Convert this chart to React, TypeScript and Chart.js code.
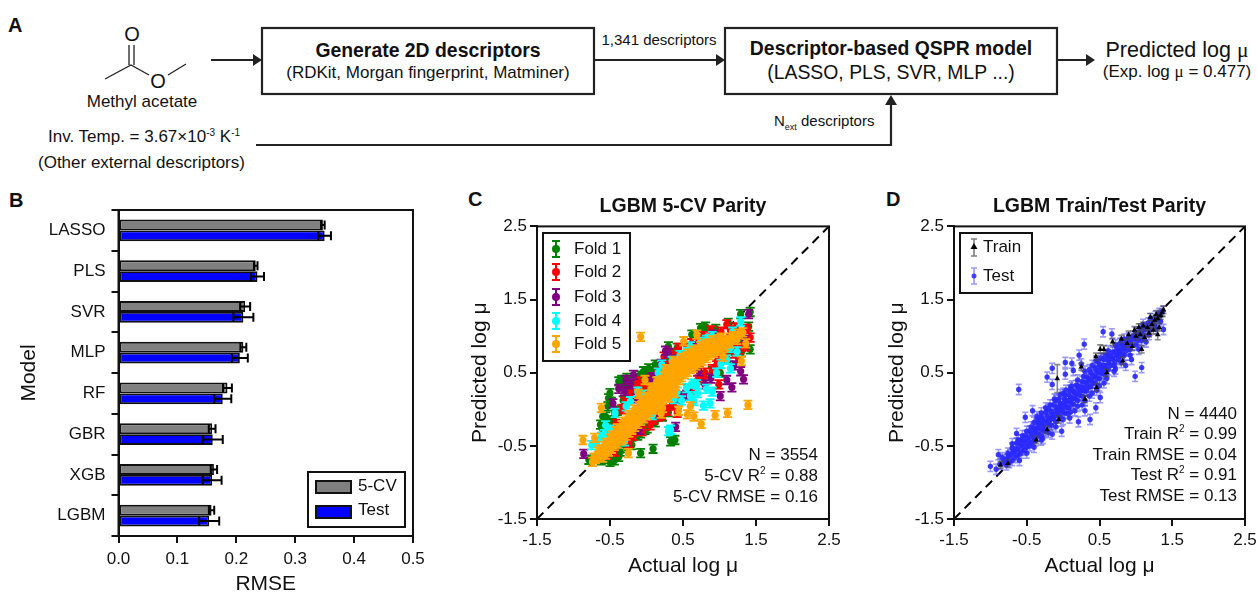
import React, { useEffect, useRef } from "react";
import { Chart, registerables } from "chart.js";
Chart.register(...registerables);

const FONT = '"Liberation Sans", Arial, sans-serif';
Chart.defaults.font.family = FONT;
Chart.defaults.color = "#111";

// Panel B
const models = ["LASSO", "PLS", "SVR", "MLP", "RF", "GBR", "XGB", "LGBM"];
const cvRmse = [0.347, 0.233, 0.215, 0.212, 0.185, 0.159, 0.162, 0.158];
const cvErr = [0.003, 0.003, 0.0085, 0.005, 0.0075, 0.0057, 0.0054, 0.0045];
const testRmse = [0.35, 0.236, 0.212, 0.206, 0.177, 0.16, 0.159, 0.154];
const testErr = [0.0107, 0.011, 0.017, 0.0135, 0.0145, 0.017, 0.016, 0.017];
const rmseTicks = [0, 0.1, 0.2, 0.3, 0.4, 0.5];

// Panel C
const fold1 = [[-.34,.4],[-.38,.38],[-.27,.43],[-.3,.36],[-.24,.39],[-.36,.34],[-.5,.22],[-.52,.15],[-.53,.04],[-.48,.1],[-.56,-.1],[-.63,-.21],[-.61,-.26],[-.5,-.17],[-.44,-.04],[-.6,-.1],[-.04,.52],[.12,.61],[.03,.56],[.08,.5],[-.1,.46],[.3,.86],[.42,.84],[.36,.76],[.74,1.11],[.81,1.13],[.62,1.02],[.95,1.1],[1.29,1.3],[1.42,1.33],[1.01,.5],[1.42,.82],[1.19,.83],[1.4,1.13],[1.3,.9],[-.79,-.69],[-.5,-.72],[-.44,-.7],[-.38,-.65],[-.36,-.58],[-.27,-.53],[-.2,-.49],[-.08,-.6],[.09,-.54],[.33,-.44],[.39,-.42],[.01,-.26],[-.08,-.33],[-.3,-.45],[.22,-.1],[-.16,.2],[-.02,.28],[.52,.7],[1.12,1.18],[-.55,-.3],[-.45,-.15],[-.4,-.02],[-.32,.12],[-.25,.25],[-.18,.32],[-.08,.38],[0,.44],[.12,.52],[.2,.56],[.28,.66],[.4,.72],[-.62,-.7],[-.55,-.68],[-.42,-.6],[-.22,-.42],[-.12,-.36],[-.02,-.28],[.12,-.18],[.3,-.04],[.6,.26],[.9,.52],[1.1,.7],[1.3,.78]];
const fold2 = [[.44,.84],[.78,1],[1.1,1.16],[1.26,.7],[.97,.66],[.78,.43],[.99,.34],[.42,-.05],[.21,-.08],[.1,-.14],[-.22,.2],[.33,.77],[1.42,.98],[1.06,.81],[-.54,-.62],[.88,1.08],[.62,.9],[1.2,.88],[.9,.55],[.7,.4],[.56,.28],[.35,.05],[.28,-.02],[.05,-.22],[-.3,.1],[-.12,.38],[.15,.5],[.24,.72],[1.3,.85],[1.38,1.1],[1.15,1.08],[-.32,-.42],[-.18,-.36],[-.42,-.2],[-.34,0],[-.2,.28],[-.05,.3],[.04,.34],[.15,.42],[.3,.6],[.44,.7],[.55,.84],[.72,.94],[.9,.96],[1.02,1.06],[1.22,1.12],[-.44,-.58],[-.24,-.46],[-.06,-.3],[.16,-.1],[.26,0],[.42,.1],[.5,.18],[.64,.3],[.8,.5],[.96,.6],[1.08,.72],[1.2,.76],[1.36,.86]];
const fold3 = [[-.86,-.61],[-.38,.28],[-.18,.47],[.3,.77],[-.22,.34],[.12,.34],[1.4,1.3],[1.29,.52],[1.33,.41],[1.17,.3],[1.1,.4],[1.01,.18],[.4,-.24],[-.13,.15],[1.35,.95],[.8,.34],[-.28,.4],[.06,.42],[.26,.8],[.2,.62],[-.3,.25],[.92,1.02],[.72,.52],[.55,.2],[-.46,.08],[.08,.44],[.38,.68],[.66,.86],[1.28,1.02],[-.1,-.28],[.18,-.06],[.46,.16],[.88,.42],[1.2,.6]];
const fold4 = [[1.29,1.2],[.9,1],[.6,.86],[.21,.61],[-.22,.11],[-.43,-.05],[-.56,-.22],[-.75,-.49],[.87,.08],[.78,.05],[.9,.24],[.65,.11],[.33,-.28],[1.15,.56],[1.24,.79],[.55,.29],[1.15,.84],[.42,.24],[.69,.34],[-.5,-.28],[-.62,-.38],[-.68,-.46],[-.12,.24],[.16,.5],[.35,.66],[.46,.74],[.74,.92],[.82,.95],[.82,.28],[.6,.18],[.48,.12],[.3,-.3],[.7,.22],[1.02,.62],[-.58,-.34],[-.28,.04],[-.04,.2],[.26,.46],[.56,.78],[.86,.96],[1.18,1.06],[-.3,-.44],[.08,-.08],[.38,.14],[.62,.35],[.96,.5],[1.1,.68]];
const fold5 = [[-.08,.99],[1.39,.06],[1.11,-.05],[.94,-.08],[.75,-.2],[.65,-.1],[.56,-.07],[.44,-.02],[.6,.04],[-.87,-.42],[-.71,-.39],[-.62,.02],[-.25,-.6],[.51,.93],[.69,1.02],[.99,.96],[.37,.66],[-.02,.4],[-.11,.21],[1.05,.72],[1.3,.66],[1.36,.9],[.2,-.06],[.08,.3],[-.74,-.72],[-.7,-.68],[-.66,-.64],[-.62,-.6],[-.58,-.57],[-.54,-.52],[-.5,-.47],[-.46,-.43],[-.42,-.38],[-.38,-.34],[-.34,-.31],[-.3,-.27],[-.26,-.23],[-.22,-.18],[-.18,-.14],[-.14,-.1],[-.1,-.06],[-.06,-.02],[-.02,.02],[.02,.05],[.06,.09],[.1,.13],[.14,.18],[.18,.22],[.22,.27],[.26,.32],[.3,.36],[.34,.41],[.38,.46],[.42,.5],[.46,.54],[.5,.58],[.54,.61],[.58,.64],[.62,.66],[.66,.69],[.7,.72],[.74,.75],[.78,.78],[.82,.8],[.86,.83],[.9,.85],[.95,.87],[1,.89],[1.05,.92],[1.1,.95],[1.15,.98],[1.2,1],[1.26,1.03],[1.32,1.05],[-.66,-.58],[-.58,-.5],[-.5,-.4],[-.42,-.3],[-.34,-.22],[-.26,-.13],[-.18,-.05],[-.1,.04],[-.02,.12],[.06,.2],[.14,.3],[.22,.4],[.3,.5],[.38,.58],[.46,.66],[.54,.72],[.62,.76],[.7,.82],[.8,.88],[.9,.94],[1.02,.98],[-.6,-.66],[-.52,-.58],[-.44,-.5],[-.36,-.43],[-.28,-.36],[-.2,-.28],[-.12,-.2],[-.04,-.12],[.04,-.04],[.12,.04],[.2,.12],[.28,.22],[.36,.32],[.44,.4],[.52,.48],[.6,.55],[.68,.6],[.76,.66],[.86,.74],[.96,.8],[1.08,.86],[.1,.26],[.2,.36],[.32,.24],[.22,.02],[.4,.32],[-.72,-.66],[-.64,-.55],[-.56,-.46],[-.48,-.36],[-.4,-.26],[-.32,-.17],[-.24,-.08],[-.16,0],[-.08,.09],[0,.17],[.08,.25],[.16,.35],[.24,.45],[.32,.55],[.4,.63],[.48,.7],[.56,.76],[.64,.8],[.74,.86],[.84,.9],[-.56,-.62],[-.48,-.54],[-.4,-.47],[-.32,-.4],[-.24,-.32],[-.16,-.24],[-.08,-.16],[0,-.08],[.08,0],[.16,.08],[.24,.17],[.32,.27],[.4,.36],[.48,.44],[.56,.51],[.64,.57],[.72,.63],[.82,.7],[.92,.77],[1.02,.83],[1.14,.9],[1.24,.95],[.06,.28],[.14,.38],[.3,.16],[.38,.22],[.12,0],[.26,.55]];
const foldLabels = ["Fold 1", "Fold 2", "Fold 3", "Fold 4", "Fold 5"];
const foldColors = ["#008000", "#ff0000", "#800080", "#00ffff", "#ffa500"];
const foldErr = 0.058;
const cvNotes = ["N = 3554", "5-CV R|2| = 0.88", "5-CV RMSE = 0.16"];

// Panel D
const trainPts = [[-.08,.42,.19],[1.3,1.02,.07],[.51,.82,.06],[-.86,-.76],[-.76,-.74],[-.37,-.42],[-.22,-.28],[-.06,-.14],[.3,.14],[.46,.3],[.6,.5],[.82,.66],[.95,.86],[1.08,.82],[1.12,.98],[.8,.96],[.68,.92],[.56,.82],[.45,.72],[.9,1.02],[.98,1.08],[1.04,1.12],[1.1,1.14],[1.16,1.12],[1.22,1.16],[1.26,1.22],[1.3,1.24],[1.34,1.28],[1.36,1.32],[1.38,1.36],[1.32,1.12],[1.24,1.08],[1.18,1.04],[1.06,1.02],[1.2,1.26],[1.28,1.3],[1,1],[.88,.9],[.25,.58]];
const testPts = [[.55,1.06],[.29,.89],[.22,.74],[.03,.64],[-.15,.56],[-.22,.44],[-.15,.34],[-.61,.27],[.03,.48],[.14,.53],[.25,.62],[1.08,.57],[.99,.45],[.94,.68],[.37,-.14],[.51,.16],[.21,-.17],[-.52,-.11],[-.64,-.33],[-1,-.78],[-.89,-.62],[1.38,1.09],[.67,1.03],[.12,.63],[.45,.66],[.78,.9],[.86,.6],[.72,.55],[-.42,-.02],[-.36,-.1],[.45,.02],[.3,-.02],[.09,-.12],[-.02,-.3],[-.15,-.34],[-.28,-.4],[-.92,-.82],[-.87,-.75],[-.82,-.72],[-.77,-.68],[-.72,-.62],[-.67,-.58],[-.62,-.55],[-.57,-.5],[-.52,-.46],[-.47,-.42],[-.42,-.37],[-.37,-.32],[-.32,-.27],[-.27,-.23],[-.22,-.18],[-.17,-.13],[-.12,-.08],[-.07,-.04],[-.02,.01],[.03,.06],[.08,.11],[.13,.15],[.18,.21],[.23,.25],[.28,.3],[.33,.36],[.38,.4],[.43,.45],[.48,.5],[.53,.54],[.58,.6],[.63,.64],[.68,.69],[.73,.74],[.78,.79],[.83,.83],[.88,.87],[.93,.92],[.98,.96],[1.03,1.01],[1.08,1.05],[1.13,1.09],[1.18,1.13],[1.23,1.17],[1.28,1.22],[1.33,1.28],[1.37,1.34],[-.84,-.66],[-.76,-.6],[-.7,-.53],[-.64,-.46],[-.58,-.42],[-.52,-.36],[-.46,-.3],[-.4,-.26],[-.34,-.19],[-.28,-.14],[-.22,-.09],[-.16,-.03],[-.1,.03],[-.04,.08],[.02,.14],[.08,.2],[.14,.25],[.2,.32],[.26,.38],[.32,.44],[.38,.5],[.44,.56],[.5,.61],[.56,.68],[.62,.74],[.68,.78],[.74,.84],[.8,.9],[.9,.98],[1,1.05],[1.1,1.16],[1.2,1.24],[-.78,-.76],[-.7,-.7],[-.62,-.63],[-.54,-.56],[-.46,-.5],[-.38,-.43],[-.3,-.36],[-.24,-.3],[-.16,-.22],[-.1,-.17],[-.04,-.1],[.02,-.05],[.08,.02],[.14,.07],[.2,.12],[.26,.18],[.32,.25],[.38,.31],[.44,.36],[.5,.42],[.56,.48],[.62,.54],[.7,.6],[.76,.68],[.84,.74],[.92,.82],[1,.88],[1.08,.94],[1.18,1.02],[1.28,1.1],[-.3,-.1],[-.2,0],[-.1,.12],[0,.22],[.1,.3],[.06,-.06],[.16,-.02],[.26,.06],[.36,.18],[.46,.26],[.56,.36],[-.8,-.69],[-.75,-.64],[-.69,-.59],[-.64,-.54],[-.59,-.48],[-.54,-.43],[-.49,-.39],[-.44,-.33],[-.39,-.29],[-.35,-.25],[-.3,-.2],[-.25,-.16],[-.2,-.12],[-.15,-.07],[-.09,-.02],[-.05,.03],[0,.08],[.05,.12],[.1,.17],[.16,.22],[.21,.28],[.25,.31],[.3,.37],[.35,.42],[.41,.47],[.46,.53],[.51,.57],[.55,.6],[.61,.68],[.66,.72],[.71,.78],[.76,.8],[.81,.86],[.86,.9],[.91,.95],[.96,1],[1.02,1.04],[1.06,1.1],[1.12,1.12],[1.17,1.18],[1.22,1.2],[1.27,1.27],[1.32,1.31],[-.74,-.73],[-.66,-.66],[-.58,-.6],[-.5,-.52],[-.43,-.46],[-.35,-.37],[-.27,-.29],[-.19,-.21],[-.13,-.13],[-.07,-.09],[-.01,-.03],[.05,.02],[.11,.08],[.17,.14],[.23,.19],[.29,.25],[.35,.3],[.41,.36],[.47,.42],[.53,.49],[.59,.54],[.65,.6],[.71,.65],[.77,.72],[.81,.76],[.87,.8],[.95,.87],[1.03,.94],[1.11,1.01],[1.19,1.08],[1.26,1.14],[1.34,1.2],[-.4,-.18],[-.32,-.12],[-.24,-.04],[-.14,.06],[-.06,.14],[.02,.2],[.1,.26],[.18,.33],[.28,.45],[.36,.54],[.48,.66],[.58,.74],[-.7,-.47],[-.62,-.42],[-.56,-.36],[-.5,-.3],[-.44,-.24],[-.36,-.14],[-.3,-.05],[-.24,.02],[-.18,.06],[-.12,.14],[-.04,.2],[.04,.26],[.12,.32],[.2,.4],[.3,.52],[.4,.6],[.52,.7],[.62,.8],[.72,.88],[.84,.96],[-.6,-.7],[-.5,-.6],[-.4,-.52],[-.3,-.42],[-.2,-.32],[-.1,-.24],[0,-.14],[.1,-.04],[.2,.04],[.3,.12],[.4,.22],[.5,.32],[.6,.42],[.7,.52],[.8,.64],[.92,.74],[1.04,.82],[1.14,.92]];
const trainErr = 0.05;
const testError = 0.07;
const splitNotes = ["N = 4440", "Train R|2| = 0.99", "Train RMSE = 0.04", "Test R|2| = 0.91", "Test RMSE = 0.13"];
const parityEnds = [-1.5, 2.5];
const parityTicks = [-1.5, -0.5, 0.5, 1.5, 2.5];

const boxPlugin = {
  id: "box",
  afterDraw(chart: any) {
    const a = chart.chartArea, c = chart.ctx;
    c.save();
    c.strokeStyle = "#111";
    c.lineWidth = 2;
    c.strokeRect(a.left, a.top, a.right - a.left, a.bottom - a.top);
    c.restore();
  },
};

function drawErr(c: any, px: number, y0: number, y1: number, capW: number, color: string, lw: number) {
  c.strokeStyle = color;
  c.lineWidth = lw;
  c.beginPath();
  c.moveTo(px, y0); c.lineTo(px, y1);
  c.moveTo(px - capW / 2, y0); c.lineTo(px + capW / 2, y0);
  c.moveTo(px - capW / 2, y1); c.lineTo(px + capW / 2, y1);
  c.stroke();
}

const scatterErrPlugin = {
  id: "scatterErr",
  beforeDatasetDraw(chart: any, args: any) {
    const ds = chart.data.datasets[args.index];
    if (!ds.errColor) return;
    const c = chart.ctx;
    c.save();
    const sy = chart.scales.y, sx = chart.scales.x;
    for (const p of ds.data) {
      const e = p.e ?? ds.errValue;
      drawErr(c, sx.getPixelForValue(p.x), sy.getPixelForValue(p.y + e), sy.getPixelForValue(p.y - e), ds.capW, ds.errColor, ds.errWidth);
    }
    c.restore();
  },
};

const barErrPlugin = {
  id: "barErr",
  afterDatasetsDraw(chart: any) {
    const c = chart.ctx, sx = chart.scales.x;
    c.save();
    chart.data.datasets.forEach((ds: any, i: number) => {
      chart.getDatasetMeta(i).data.forEach((el: any, j: number) => {
        const x0 = sx.getPixelForValue(ds.data[j] - ds.errs[j]);
        const x1 = sx.getPixelForValue(ds.data[j] + ds.errs[j]);
        c.strokeStyle = "#000";
        c.lineWidth = 2;
        c.beginPath();
        c.moveTo(x0, el.y); c.lineTo(x1, el.y);
        c.moveTo(x0, el.y - 4.5); c.lineTo(x0, el.y + 4.5);
        c.moveTo(x1, el.y - 4.5); c.lineTo(x1, el.y + 4.5);
        c.stroke();
      });
    });
    c.restore();
  },
};

function notesPlugin(lines: string[], right: number, centers: number[]) {
  return {
    id: "notes",
    afterDraw(chart: any) {
      const c = chart.ctx;
      c.save();
      c.fillStyle = "#111";
      c.textBaseline = "middle";
      c.textAlign = "left";
      lines.forEach((line, i) => {
        const parts = line.split("|");
        const big = `17px ${FONT}`, small = `10px ${FONT}`;
        const widths = parts.map((t, k) => { c.font = k === 1 ? small : big; return c.measureText(t).width; });
        let x = right - widths.reduce((a, b) => a + b, 0);
        parts.forEach((t, k) => {
          c.font = k === 1 ? small : big;
          c.fillText(t, x, centers[i] + (k === 1 ? -5 : 0));
          x += widths[k];
        });
      });
      c.restore();
    },
  };
}

function legendPlugin(draw: (c: any, chart: any) => void) {
  return { id: "legendBox", afterDraw(chart: any) { const c = chart.ctx; c.save(); draw(c, chart); c.restore(); } };
}

function frame(c: any, x: number, y: number, w: number, h: number) {
  c.fillStyle = "#fff";
  c.fillRect(x, y, w, h);
  c.strokeStyle = "#111";
  c.lineWidth = 2;
  c.strokeRect(x, y, w, h);
  c.font = `17px ${FONT}`;
  c.textBaseline = "middle";
  c.textAlign = "left";
}

const OFFSET_C = { left: 465, top: 190 };
const OFFSET_D = { left: 883, top: 190 };
const OFFSET_B = { left: 0, top: 190 };

const noPad = (s: any) => { s.paddingLeft = 0; s.paddingRight = 0; s.paddingTop = 0; s.paddingBottom = 0; };

function parityConfig(datasets: any[], title: string, plugins: any[], yWidth: number, right: number, yTitlePad: number) {
  const diag = {
    type: "line", label: "Parity",
    data: parityEnds.map((v) => ({ x: v, y: v })),
    borderColor: "#000", borderWidth: 2, borderDash: [9, 6], pointRadius: 0, order: 100,
  };
  const axis = (text: string) => ({
    type: "linear", min: parityEnds[0], max: parityEnds[1],
    afterBuildTicks(s: any) { s.ticks = parityTicks.map((value) => ({ value })); },
    ticks: { font: { size: 17 }, color: "#111", callback: (v: any) => Number(v).toFixed(1), maxRotation: 0, autoSkip: false },
    grid: { drawOnChartArea: false, color: "#111", tickColor: "#111", lineWidth: 2, tickLength: 7 },
    border: { color: "#111", width: 2 },
    title: { display: true, text, font: { size: 21 }, color: "#111" },
  });
  const x: any = axis("Actual log μ");
  x.ticks.padding = 4;
  x.title.padding = { top: 0, bottom: 31 };
  x.afterFit = (s: any) => { s.height = 91; noPad(s); };
  const y: any = axis("Predicted log μ");
  y.ticks.padding = 3;
  y.title.padding = { top: yTitlePad, bottom: 0 };
  y.afterFit = (s: any) => { s.width = yWidth; noPad(s); };
  return {
    type: "scatter",
    data: { datasets: [...datasets, diag] },
    plugins: [scatterErrPlugin, boxPlugin, ...plugins],
    options: {
      animation: false, responsive: false,
      layout: { padding: { right, left: 0, top: 0, bottom: 0 } },
      plugins: {
        legend: { display: false }, tooltip: { enabled: false },
        title: { display: true, fullSize: false, text: title, font: { size: 19.5, weight: "bold" }, color: "#111", padding: { top: 5, bottom: 8 } },
      },
      scales: { x, y },
    },
  };
}

const toPoints = (pts: number[][]) => pts.map(([x, y, e]) => (e === undefined ? { x, y } : { x, y, e }));

function Diagram() {
  const t = { fontFamily: FONT, fill: "#111" } as any;
  const line = { stroke: "#222", strokeWidth: 2.2, fill: "none" } as any;
  const arrow = (x: number, y: number) => <polygon points={`${x},${y} ${x - 9},${y - 6} ${x - 9},${y + 6}`} fill="#222" />;
  const mu = (s = "1em") => <tspan fontFamily='"Liberation Serif", serif' fontSize={s}>μ</tspan>;
  return (
    <svg width={1257} height={593} style={{ position: "absolute", left: 0, top: 0 }}>
      <g {...t}>
        <text x={8} y={32} fontSize={20} fontWeight="bold">A</text>
        <text x={9} y={207} fontSize={20} fontWeight="bold">B</text>
        <text x={468} y={206} fontSize={20} fontWeight="bold">C</text>
        <text x={886} y={206} fontSize={20} fontWeight="bold">D</text>

        <text x={132} y={41} fontSize={20} textAnchor="middle">O</text>
        <text x={158} y={88} fontSize={20} textAnchor="middle">O</text>
        <path d="M129 45V65M134 45V65M105 79L131 65L149 75M168 75L186 64" stroke="#222" strokeWidth={1.3} fill="none" />
        <text x={142} y={107} fontSize={17} textAnchor="middle">Methyl acetate</text>
        <text x={48} y={142} fontSize={17}>Inv. Temp. = 3.67×10<tspan fontSize={10} dy={-6}>-3</tspan><tspan dy={6}> K</tspan><tspan fontSize={10} dy={-6}>-1</tspan></text>
        <text x={38} y={168} fontSize={17}>(Other external descriptors)</text>

        <rect x={262} y={28} width={332} height={66} fill="#fff" {...line} />
        <text x={428} y={57} fontSize={19.4} fontWeight="bold" textAnchor="middle">Generate 2D descriptors</text>
        <text x={428} y={78} fontSize={17} textAnchor="middle">(RDKit, Morgan fingerprint, Matminer)</text>
        <rect x={725} y={28} width={332} height={66} fill="#fff" {...line} />
        <text x={891} y={55} fontSize={19.4} fontWeight="bold" textAnchor="middle">Descriptor-based QSPR model</text>
        <text x={891} y={79} fontSize={19.4} textAnchor="middle">(LASSO, PLS, SVR, MLP ...)</text>

        <path d="M211 60H254M594 60H716M1057 60H1086" {...line} />
        {arrow(262, 60)}{arrow(725, 60)}{arrow(1095, 60)}
        <path d="M256 145H891V104" {...line} />
        <polygon points="891,95 885,105 897,105" fill="#222" />

        <text x={659} y={45} fontSize={15} textAnchor="middle">1,341 descriptors</text>
        <text x={774} y={126} fontSize={15}>N<tspan fontSize={9} dy={4}>ext</tspan><tspan dy={-4}> descriptors</tspan></text>
        <text x={1177} y={57} fontSize={21.5} textAnchor="middle">Predicted log {mu()}</text>
        <text x={1177} y={77} fontSize={17} textAnchor="middle">(Exp. log {mu()} = 0.477)</text>
      </g>
    </svg>
  );
}

function useChart(make: () => any) {
  const ref = useRef<HTMLCanvasElement>(null);
  useEffect(() => {
    const ch = new Chart(ref.current!, make());
    return () => ch.destroy();
  }, []);
  return ref;
}

export default function App() {
  const refB = useChart(() => ({
    type: "bar",
    data: {
      labels: models,
      datasets: [
        { label: "5-CV", data: cvRmse, errs: cvErr, backgroundColor: "#808080", borderColor: "#111", borderWidth: 1.8, borderSkipped: false, barPercentage: 1, categoryPercentage: 0.53 },
        { label: "Test", data: testRmse, errs: testErr, backgroundColor: "#0000ff", borderColor: "#111", borderWidth: 1.8, borderSkipped: false, barPercentage: 1, categoryPercentage: 0.53 },
      ],
    },
    plugins: [barErrPlugin, boxPlugin, legendPlugin((c, chart) => {
      const x0 = 308 - OFFSET_B.left, y0 = 472 - OFFSET_B.top;
      frame(c, x0, y0, 97, 55);
      chart.data.datasets.forEach((ds: any, i: number) => {
        const y = y0 + 9 + i * 25;
        c.fillStyle = ds.backgroundColor;
        c.fillRect(x0 + 8, y, 35, 12);
        c.strokeRect(x0 + 8, y, 35, 12);
        c.fillStyle = "#111";
        c.fillText(ds.label, x0 + 50, y + 6 - (i ? 2 : 1));
      });
    })],
    options: {
      indexAxis: "y", animation: false, responsive: false,
      layout: { padding: { top: 20, right: 17, left: 0, bottom: 0 } },
      plugins: { legend: { display: false }, tooltip: { enabled: false } },
      scales: {
        x: {
          type: "linear", min: rmseTicks[0], max: rmseTicks[rmseTicks.length - 1],
          ticks: { stepSize: 0.1, font: { size: 17 }, color: "#111", padding: 6, maxRotation: 0, callback: (v: any) => Number(v).toFixed(1) },
          grid: { drawOnChartArea: false, color: "#111", tickColor: "#111", lineWidth: 2, tickLength: 7 },
          border: { color: "#111", width: 2 },
          title: { display: true, text: "RMSE", font: { size: 21 }, color: "#111", padding: { top: 0, bottom: 13 } },
          afterFit(s: any) { s.height = 74; noPad(s); },
        },
        y: {
          ticks: { font: { size: 17 }, color: "#111", padding: 6, autoSkip: false },
          grid: { drawOnChartArea: false, color: "#111", tickColor: "#111", lineWidth: 2, tickLength: 7 },
          border: { color: "#111", width: 2 },
          title: { display: true, text: "Model", font: { size: 21 }, color: "#111", padding: { top: 17, bottom: 0 } },
          afterFit(s: any) { s.width = 118.5; noPad(s); },
        },
      },
    },
  }));

  const refC = useChart(() => {
    const datasets = [fold1, fold2, fold3, fold4, fold5].map((pts, i) => ({
      label: foldLabels[i], data: toPoints(pts), backgroundColor: foldColors[i], borderColor: foldColors[i],
      pointRadius: 3.6, pointBorderWidth: 0, showLine: false, order: 5 - i,
      errColor: foldColors[i], errValue: foldErr, errWidth: 1.8, capW: 9,
    }));
    const legend = legendPlugin((c) => {
      const x0 = 543 - OFFSET_C.left, y0 = 233 - OFFSET_C.top;
      frame(c, x0, y0, 87, 128);
      const rows = [16, 39, 64, 88, 111];
      foldLabels.forEach((label, i) => {
        const y = y0 + rows[i], x = x0 + 13;
        drawErr(c, x, y - 8, y + 8, 8, foldColors[i], 2);
        c.fillStyle = foldColors[i];
        c.beginPath(); c.arc(x, y, 4, 0, Math.PI * 2); c.fill();
        c.fillStyle = "#111";
        c.fillText(label, x0 + 31, y);
      });
    });
    return parityConfig(datasets, "LGBM 5-CV Parity", [notesPlugin(cvNotes, 818 - OFFSET_C.left, [455 - OFFSET_C.top, 476 - OFFSET_C.top, 497 - OFFSET_C.top]), legend], 72, 21, 3);
  });

  const refD = useChart(() => {
    const datasets = [
      { label: "Train", data: toPoints(trainPts), backgroundColor: "#000", borderColor: "#000", pointStyle: "triangle", pointRadius: 3.2, pointBorderWidth: 0, showLine: false, order: 1, errColor: "rgba(70,70,70,0.65)", errValue: trainErr, errWidth: 1.6, capW: 6 },
      { label: "Test", data: toPoints(testPts), backgroundColor: "rgba(40,40,255,0.9)", borderColor: "#00f", pointRadius: 2.7, pointBorderWidth: 0, showLine: false, order: 2, errColor: "rgba(70,70,255,0.55)", errValue: testError, errWidth: 1.6, capW: 6 },
    ];
    const legend = legendPlugin((c) => {
      const x0 = 960 - OFFSET_D.left, y0 = 233 - OFFSET_D.top;
      frame(c, x0, y0, 72, 60);
      const x = x0 + 14;
      let y = y0 + 14;
      drawErr(c, x, y - 8, y + 9, 6, "rgba(70,70,70,0.7)", 1.6);
      c.fillStyle = "#000";
      c.beginPath(); c.moveTo(x, y - 4); c.lineTo(x + 3.5, y + 2); c.lineTo(x - 3.5, y + 2); c.fill();
      c.fillStyle = "#111";
      c.fillText(datasets[0].label, x0 + 23, y);
      y = y0 + 43;
      drawErr(c, x, y - 8, y + 8, 6, "rgba(70,70,255,0.55)", 1.6);
      c.fillStyle = "rgba(40,40,255,0.85)";
      c.beginPath(); c.arc(x, y, 2.5, 0, Math.PI * 2); c.fill();
      c.fillStyle = "#111";
      c.fillText(datasets[1].label, x0 + 23, y);
    });
    const t = OFFSET_D.top;
    return parityConfig(datasets, "LGBM Train/Test Parity", [notesPlugin(splitNotes, 1237 - OFFSET_D.left, [414 - t, 434 - t, 455 - t, 475 - t, 496 - t]), legend], 71, 12, 2);
  });

  const cv = (o: any, w: number) => ({ position: "absolute" as const, left: o.left, top: o.top, width: w, height: 420 });
  return (
    <div style={{ position: "fixed", left: 0, top: 0, width: 1257, height: 593, overflow: "hidden", background: "#fff" }}>
      <Diagram />
      <canvas ref={refB} width={430} height={420} style={cv(OFFSET_B, 430)} />
      <canvas ref={refC} width={385} height={420} style={cv(OFFSET_C, 385)} />
      <canvas ref={refD} width={374} height={420} style={cv(OFFSET_D, 374)} />
    </div>
  );
}
